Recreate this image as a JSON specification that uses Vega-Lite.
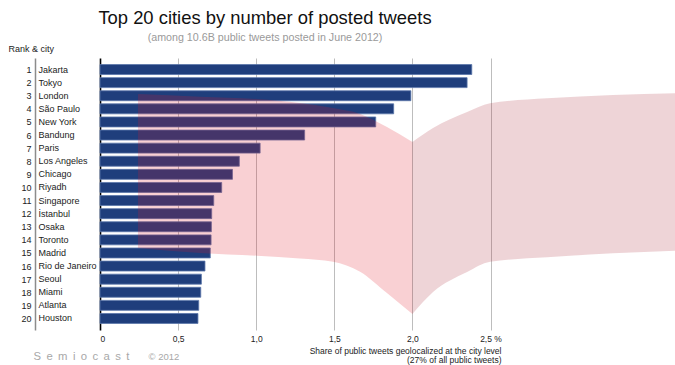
{
  "$schema": "https://vega.github.io/schema/vega-lite/v6.json",
  "width": 575,
  "height": 272,
  "autosize": {"type": "none"},
  "padding": {"left": 100, "top": 58, "right": 0, "bottom": 35},
  "config": {
    "font": "Liberation Sans",
    "view": {"stroke": null},
    "axis": {"labelFont": "Liberation Sans", "titleFont": "Liberation Sans", "titleFontWeight": "normal"}
  },
  "title": {
    "text": "Top 20 cities by number of posted tweets",
    "subtitle": "(among 10.6B public tweets posted in June 2012)",
    "anchor": "start",
    "align": "center",
    "frame": "group",
    "dx": 165,
    "offset": 1,
    "font": "Liberation Sans",
    "fontSize": 18.4,
    "fontWeight": "normal",
    "color": "#111111",
    "subtitleFont": "Liberation Sans",
    "subtitleFontSize": 10.7,
    "subtitleColor": "#9a9a9a",
    "subtitlePadding": 6
  },
  "datasets": {
    "cities": [
      {"rank": 1, "city": "Jakarta", "share": 2.38},
      {"rank": 2, "city": "Tokyo", "share": 2.35},
      {"rank": 3, "city": "London", "share": 1.99},
      {"rank": 4, "city": "São Paulo", "share": 1.88},
      {"rank": 5, "city": "New York", "share": 1.765},
      {"rank": 6, "city": "Bandung", "share": 1.31},
      {"rank": 7, "city": "Paris", "share": 1.025},
      {"rank": 8, "city": "Los Angeles", "share": 0.892},
      {"rank": 9, "city": "Chicago", "share": 0.848},
      {"rank": 10, "city": "Riyadh", "share": 0.779},
      {"rank": 11, "city": "Singapore", "share": 0.728},
      {"rank": 12, "city": "İstanbul", "share": 0.715},
      {"rank": 13, "city": "Osaka", "share": 0.713},
      {"rank": 14, "city": "Toronto", "share": 0.711},
      {"rank": 15, "city": "Madrid", "share": 0.706},
      {"rank": 16, "city": "Rio de Janeiro", "share": 0.672},
      {"rank": 17, "city": "Seoul", "share": 0.649},
      {"rank": 18, "city": "Miami", "share": 0.645},
      {"rank": 19, "city": "Atlanta", "share": 0.632},
      {"rank": 20, "city": "Houston", "share": 0.627}
    ],
    "ribbon": [
      {"piece": "a", "x": 0.243, "top": 2.87, "bottom": 14.62},
      {"piece": "a", "x": 0.64, "top": 3.07, "bottom": 15.0},
      {"piece": "a", "x": 1.005, "top": 3.25, "bottom": 15.21},
      {"piece": "a", "x": 1.28, "top": 3.55, "bottom": 15.42},
      {"piece": "a", "x": 1.492, "top": 3.94, "bottom": 15.67},
      {"piece": "a", "x": 1.665, "top": 4.39, "bottom": 16.43},
      {"piece": "a", "x": 1.837, "top": 5.39, "bottom": 18.06},
      {"piece": "a", "x": 2.0, "top": 6.53, "bottom": 19.66},
      {"piece": "b", "x": 2.0, "top": 6.53, "bottom": 19.66},
      {"piece": "b", "x": 2.132, "top": 5.46, "bottom": 17.98},
      {"piece": "b", "x": 2.35, "top": 4.24, "bottom": 16.45},
      {"piece": "b", "x": 2.497, "top": 3.58, "bottom": 15.67},
      {"piece": "b", "x": 2.862, "top": 3.2, "bottom": 15.33},
      {"piece": "b", "x": 3.284, "top": 2.94, "bottom": 15.03},
      {"piece": "b", "x": 3.681, "top": 2.81, "bottom": 14.83}
    ]
  },
  "layer": [
    {
      "data": {"name": "cities"},
      "mark": {"type": "bar", "fill": "#1f3e7c", "stroke": "#5b76aa", "strokeWidth": 0.8},
      "encoding": {
        "y": {
          "field": "city",
          "type": "nominal",
          "sort": {"field": "rank", "op": "min", "order": "ascending"},
          "scale": {"paddingInner": 0.24, "paddingOuter": 0.5},
          "axis": {
            "orient": "left",
            "offset": 62,
            "domain": false,
            "ticks": false,
            "labelAlign": "left",
            "labelPadding": 0,
            "labelFontSize": 9,
            "labelColor": "#222222",
            "labelLimit": 200,
            "title": "Rank & city",
            "titleAngle": 0,
            "titleAlign": "left",
            "titleBaseline": "alphabetic",
            "titleX": -30,
            "titleY": -7,
            "titleFontSize": 9,
            "titleColor": "#222222"
          }
        },
        "x": {
          "field": "share",
          "type": "quantitative",
          "scale": {"domain": [0, 3.681], "nice": false, "zero": true},
          "axis": {
            "orient": "bottom",
            "values": [0, 0.5, 1, 1.5, 2, 2.5],
            "labelExpr": "datum.value == 0 ? '0' : (datum.value == 2.5 ? '\u00a0\u00a0\u00a0\u00a02,5 %' : replace(format(datum.value, '.1f'), '.', ','))",
            "domain": false,
            "ticks": false,
            "grid": true,
            "gridColor": {"condition": {"test": "datum.value == 0", "value": "#000000"}, "value": "#bdbdbd"},
            "gridWidth": {"condition": {"test": "datum.value == 0", "value": 1.6}, "value": 1},
            "labelFontSize": 8.5,
            "labelColor": "#222222",
            "labelPadding": 4,
            "title": ["Share of public tweets geolocalized at the city level", "(27% of all public tweets)"],
            "titleAlign": "right",
            "titleAnchor": "start",
            "titleX": 401,
            "titleY": 16,
            "titleBaseline": "top",
            "titleLineHeight": 9.6,
            "titleFontSize": 8.5,
            "titleColor": "#222222"
          }
        }
      }
    },
    {
      "data": {"name": "ribbon"},
      "mark": {"type": "area", "interpolate": "monotone", "orient": "vertical", "opacity": 0.2},
      "encoding": {
        "x": {
          "field": "x",
          "type": "quantitative",
          "axis": {
            "orient": "bottom",
            "labels": false,
            "ticks": false,
            "grid": false,
            "domain": false,
            "title": "© 2012",
            "titleAlign": "left",
            "titleAnchor": "start",
            "titleX": 48,
            "titleY": 29,
            "titleBaseline": "alphabetic",
            "titleFontSize": 9.5,
            "titleColor": "#a8a8a8"
          }
        },
        "y": {
          "field": "top",
          "type": "quantitative",
          "scale": {"domain": [0.12, 20.88], "reverse": true, "nice": false, "zero": false},
          "axis": {
            "orient": "left",
            "offset": 65,
            "values": [1, 2, 3, 4, 5, 6, 7, 8, 9, 10, 11, 12, 13, 14, 15, 16, 17, 18, 19, 20],
            "format": "d",
            "domain": true,
            "domainColor": "#8c8c8c",
            "domainWidth": 1.5,
            "ticks": false,
            "grid": false,
            "labelAlign": "right",
            "labelPadding": 4,
            "labelFontSize": 9,
            "labelColor": "#222222",
            "title": "S\u00a0\u2009e\u00a0\u2009m\u00a0\u2009i\u00a0\u2009o\u00a0\u2009c\u00a0\u2009a\u00a0\u2009s\u00a0\u2009t",
            "titleAngle": 0,
            "titleAlign": "left",
            "titleBaseline": "alphabetic",
            "titleX": -2,
            "titleY": 301,
            "titleFontSize": 11.3,
            "titleColor": "#a8a8a8"
          }
        },
        "y2": {"field": "bottom"},
        "color": {
          "field": "piece",
          "type": "nominal",
          "scale": {"domain": ["a", "b"], "range": ["#e11423", "#aa2837"]},
          "legend": null
        }
      }
    }
  ],
  "resolve": {"scale": {"y": "independent"}, "axis": {"x": "independent"}}
}
